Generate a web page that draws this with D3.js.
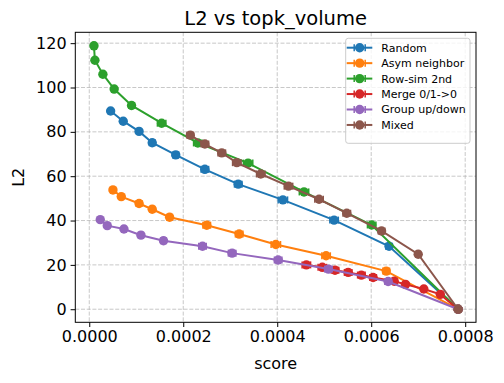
<!DOCTYPE html>
<html>
<head>
<meta charset="utf-8">
<script src="https://cdn.jsdelivr.net/npm/d3@7"></script>
<style>
  body { margin: 0; background: #fff; }
  svg { display: block; font-family: "DejaVu Sans", sans-serif; }
</style>
</head>
<body>
<svg id="chart" width="504" height="383"></svg>
<script>
// data
var seriesNames = ['Random', 'Asym neighbor', 'Row-sim 2nd', 'Merge 0/1->0', 'Group up/down', 'Mixed'];
var colors = ['#1f77b4', '#ff7f0e', '#2ca02c', '#d62728', '#9467bd', '#8c564b'];

var randomX = [4.55e-5, 7.23e-5, 1.06e-4, 1.34e-4, 1.84e-4, 2.46e-4, 3.17e-4, 4.12e-4, 5.21e-4, 6.38e-4, 7.85e-4];
var randomY = [89.4, 84.8, 80.2, 75.1, 69.6, 63.1, 56.4, 49.3, 40.2, 28.4, 0];
var randomErr = [2e-6, 3e-6, 5e-6, 6e-6, 6e-6, 8e-6, 8e-6, 10e-6, 9e-6, 7e-6, 0];

var asymX = [5.04e-5, 6.81e-5, 1.06e-4, 1.34e-4, 1.71e-4, 2.50e-4, 3.19e-4, 3.97e-4, 5.04e-4, 6.32e-4, 7.85e-4];
var asymY = [53.8, 50.8, 47.7, 45.1, 41.5, 37.9, 33.9, 29.2, 24.1, 17.2, 0];
var asymErr = [2e-6, 3e-6, 6e-6, 5e-6, 6e-6, 8e-6, 8e-6, 10e-6, 9e-6, 7e-6, 0];

var rowSimX = [1.0e-5, 1.2e-5, 2.9e-5, 5.3e-5, 9.0e-5, 1.54e-4, 2.31e-4, 3.38e-4, 4.57e-4, 6.01e-4, 7.85e-4];
var rowSimY = [118.8, 112.3, 106.0, 99.3, 91.9, 83.9, 75.0, 65.9, 52.9, 38.0, 0];
var rowSimErr = [0, 1e-6, 2e-6, 3e-6, 6e-6, 9e-6, 9e-6, 10e-6, 10e-6, 9e-6, 0];

var mergeX = [4.62e-4, 4.96e-4, 5.23e-4, 5.51e-4, 5.79e-4, 6.04e-4, 6.49e-4, 6.73e-4, 7.12e-4, 7.47e-4, 7.85e-4];
var mergeY = [20.0, 18.9, 17.6, 16.6, 15.4, 14.3, 12.6, 11.2, 9.1, 6.7, 0];
var mergeErr = [9e-6, 9e-6, 8e-6, 8e-6, 8e-6, 7e-6, 6e-6, 5e-6, 4e-6, 3e-6, 0];

var groupX = [2.34e-5, 3.83e-5, 7.38e-5, 1.10e-4, 1.58e-4, 2.41e-4, 3.04e-4, 4.02e-4, 5.09e-4, 6.36e-4, 7.85e-4];
var groupY = [40.4, 37.7, 36.2, 33.4, 30.9, 28.4, 25.3, 22.2, 18.1, 12.5, 0];
var groupErr = [2e-6, 3e-6, 4e-6, 5e-6, 6e-6, 8e-6, 8e-6, 8e-6, 8e-6, 7e-6, 0];

var mixedX = [2.15e-4, 2.46e-4, 2.82e-4, 3.14e-4, 3.65e-4, 4.24e-4, 4.89e-4, 5.48e-4, 6.22e-4, 7.00e-4, 7.85e-4];
var mixedY = [78.5, 74.5, 70.5, 66.1, 61.0, 55.5, 49.6, 43.3, 35.3, 24.8, 0];
var mixedErr = [7e-6, 8e-6, 8e-6, 9e-6, 9e-6, 9e-6, 9e-6, 8e-6, 7e-6, 5e-6, 0];

var xTicks = [0, 0.0002, 0.0004, 0.0006, 0.0008];
var yTicks = [0, 20, 40, 60, 80, 100, 120];

var allX = [randomX, asymX, rowSimX, mergeX, groupX, mixedX];
var allY = [randomY, asymY, rowSimY, mergeY, groupY, mixedY];
var allErr = [randomErr, asymErr, rowSimErr, mergeErr, groupErr, mixedErr];

var series = seriesNames.map(function (name, i) {
  return {
    name: name,
    color: colors[i],
    points: allX[i].map(function (x, j) {
      return { x: x, y: allY[i][j], e: allErr[i][j] };
    })
  };
});

var margin = { left: 75.3, right: 28, top: 32.3, bottom: 60.7 };
var width = 504, height = 383;

var svg = d3.select('#chart');

var x = d3.scaleLinear()
  .domain([-2.97e-5, 8.23e-4])
  .range([margin.left, width - margin.right]);

var y = d3.scaleLinear()
  .domain([-5.9, 124.9])
  .range([height - margin.bottom, margin.top]);

// grid
var grid = svg.append('g').attr('class', 'grid');
grid.selectAll('line.gx')
  .data(xTicks)
  .enter().append('line')
  .attr('x1', function (d) { return x(d); })
  .attr('x2', function (d) { return x(d); })
  .attr('y1', margin.top)
  .attr('y2', height - margin.bottom);
grid.selectAll('line.gy')
  .data(yTicks)
  .enter().append('line')
  .attr('y1', function (d) { return y(d); })
  .attr('y2', function (d) { return y(d); })
  .attr('x1', margin.left)
  .attr('x2', width - margin.right);
grid.selectAll('line')
  .style('stroke', '#b0b0b0')
  .style('stroke-opacity', 0.7)
  .style('stroke-width', 1)
  .style('stroke-dasharray', '4,1.7');

// axes
var xAxis = d3.axisBottom(x)
  .tickValues(xTicks)
  .tickFormat(d3.format('.4f'))
  .tickSize(4.7)
  .tickPadding(4);

var yAxis = d3.axisLeft(y)
  .tickValues(yTicks)
  .tickSize(4.7)
  .tickPadding(4);

var gx = svg.append('g')
  .attr('transform', 'translate(0,' + (height - margin.bottom) + ')')
  .call(xAxis);
var gy = svg.append('g')
  .attr('transform', 'translate(' + margin.left + ',0)')
  .call(yAxis);

[gx, gy].forEach(function (g) {
  g.select('.domain').remove();
  g.selectAll('.tick line').style('stroke', '#000').style('stroke-width', 1);
  g.selectAll('.tick text')
    .style('font-family', '"DejaVu Sans", sans-serif')
    .style('font-size', '16px')
    .style('fill', '#000');
});

// series
var plot = svg.append('g');
var line = d3.line()
  .x(function (d) { return x(d.x); })
  .y(function (d) { return y(d.y); });

var cap = 3.5;
var radius = 4.7;

series.forEach(function (s) {
  var g = plot.append('g');

  g.append('path')
    .datum(s.points)
    .attr('d', line)
    .style('fill', 'none')
    .style('stroke', s.color)
    .style('stroke-width', 2);

  var bars = s.points.filter(function (d) { return d.e > 0; });

  g.selectAll('line.err')
    .data(bars)
    .enter().append('line')
    .attr('x1', function (d) { return x(d.x - d.e); })
    .attr('x2', function (d) { return x(d.x + d.e); })
    .attr('y1', function (d) { return y(d.y); })
    .attr('y2', function (d) { return y(d.y); })
    .style('stroke', s.color)
    .style('stroke-width', 2);

  g.selectAll('line.capL')
    .data(bars)
    .enter().append('line')
    .attr('x1', function (d) { return x(d.x - d.e); })
    .attr('x2', function (d) { return x(d.x - d.e); })
    .attr('y1', function (d) { return y(d.y) - cap; })
    .attr('y2', function (d) { return y(d.y) + cap; })
    .style('stroke', s.color)
    .style('stroke-width', 1.5);

  g.selectAll('line.capR')
    .data(bars)
    .enter().append('line')
    .attr('x1', function (d) { return x(d.x + d.e); })
    .attr('x2', function (d) { return x(d.x + d.e); })
    .attr('y1', function (d) { return y(d.y) - cap; })
    .attr('y2', function (d) { return y(d.y) + cap; })
    .style('stroke', s.color)
    .style('stroke-width', 1.5);

  g.selectAll('circle')
    .data(s.points)
    .enter().append('circle')
    .attr('cx', function (d) { return x(d.x); })
    .attr('cy', function (d) { return y(d.y); })
    .attr('r', radius)
    .style('fill', s.color);
});

// frame
svg.append('rect')
  .attr('x', margin.left)
  .attr('y', margin.top)
  .attr('width', width - margin.left - margin.right)
  .attr('height', height - margin.top - margin.bottom)
  .style('fill', 'none')
  .style('stroke', '#000')
  .style('stroke-width', 1);

// title and labels
svg.append('text')
  .attr('x', (margin.left + width - margin.right) / 2)
  .attr('y', 24.5)
  .attr('text-anchor', 'middle')
  .style('font-size', '19.5px')
  .text('L2 vs topk_volume');

svg.append('text')
  .attr('x', (margin.left + width - margin.right) / 2)
  .attr('y', 369)
  .attr('text-anchor', 'middle')
  .style('font-size', '16px')
  .text('score');

svg.append('text')
  .attr('transform', 'translate(23.5,' + ((margin.top + height - margin.bottom) / 2) + ') rotate(-90)')
  .attr('text-anchor', 'middle')
  .style('font-size', '16px')
  .text('L2');

// legend
var legend = svg.append('g').attr('transform', 'translate(345.7,38.3)');
legend.append('rect')
  .attr('width', 124.3)
  .attr('height', 105)
  .attr('rx', 2.5)
  .style('fill', '#fff')
  .style('fill-opacity', 0.8)
  .style('stroke', '#cccccc')
  .style('stroke-width', 1);

var rows = legend.selectAll('g.row')
  .data(series)
  .enter().append('g')
  .attr('transform', function (d, i) { return 'translate(0,' + (9.4 + i * 15.45) + ')'; });

rows.append('line')
  .attr('x1', 1).attr('x2', 26.6)
  .attr('y1', 0).attr('y2', 0)
  .style('stroke', function (d) { return d.color; })
  .style('stroke-width', 2);
rows.append('line')
  .attr('x1', 8.5).attr('x2', 8.5)
  .attr('y1', -cap).attr('y2', cap)
  .style('stroke', function (d) { return d.color; })
  .style('stroke-width', 1.5);
rows.append('line')
  .attr('x1', 19.5).attr('x2', 19.5)
  .attr('y1', -cap).attr('y2', cap)
  .style('stroke', function (d) { return d.color; })
  .style('stroke-width', 1.5);
rows.append('circle')
  .attr('cx', 14).attr('cy', 0)
  .attr('r', radius)
  .style('fill', function (d) { return d.color; });
rows.append('text')
  .attr('x', 35.6)
  .attr('y', 0)
  .attr('dy', '0.36em')
  .style('font-size', '11px')
  .text(function (d) { return d.name; });
</script>
</body>
</html>
